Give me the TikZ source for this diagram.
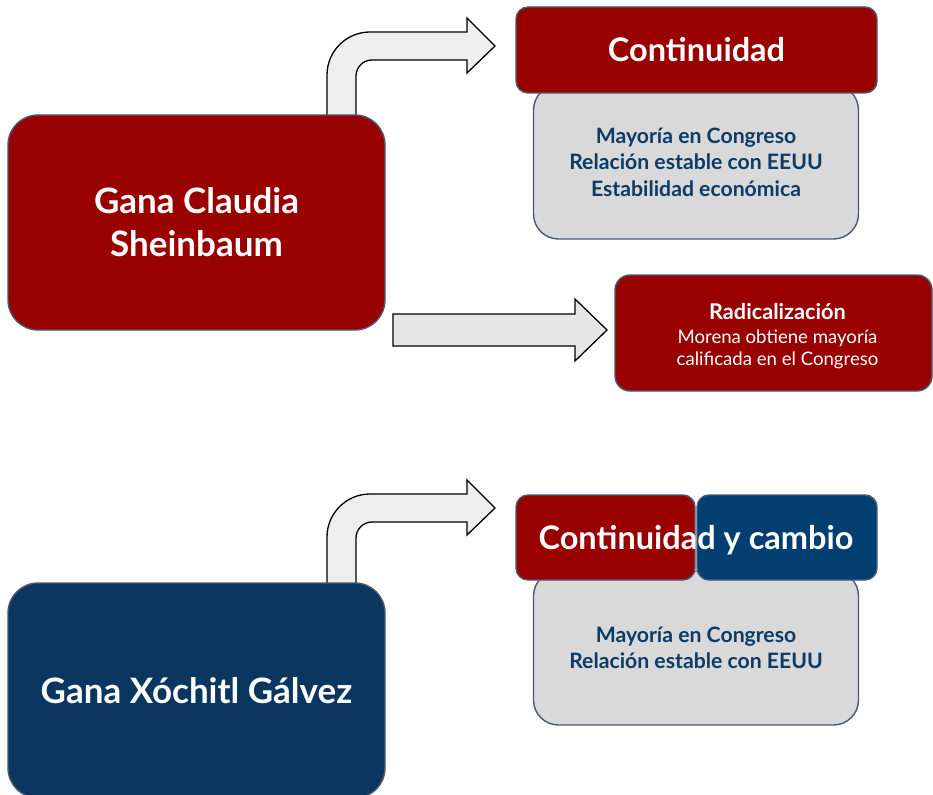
\documentclass[tikz,border=0pt]{standalone}
\usepackage{fontspec}
\setmainfont{Lato}
\definecolor{rojo}{HTML}{990000}
\definecolor{azul}{HTML}{0A3660}
\definecolor{azulb}{HTML}{023F70}
\definecolor{gris}{HTML}{D9D9D9}
\definecolor{borde}{HTML}{4A5A74}
\definecolor{txtazul}{HTML}{0B3B66}
\definecolor{flecha}{HTML}{EEEEEE}
\definecolor{flechab}{HTML}{E6E6E6}
\tikzset{
  box/.style={draw=borde, line width=1.4pt, inner sep=0pt, align=center},
  bigbox/.style={box, rounded corners=30pt, minimum width=377pt, minimum height=215pt, text=white,
    font=\fontsize{35}{43}\selectfont\bfseries},
  headbox/.style={box, rounded corners=12pt, minimum height=86pt, text=white},
  graybox/.style={box, fill=gris, rounded corners=25pt, minimum width=325pt, minimum height=154pt, text=txtazul,
    font=\fontsize{21.2}{26.5}\selectfont\bfseries},
  headtext/.style={text=white, font=\fontsize{32.5}{36}\selectfont\bfseries},
  blockarrow/.style={draw=black, line width=1.3pt, line join=miter},
  bentarrow/.pic={
    \draw[blockarrow, fill=flecha] (327,140) -- (327,75) .. controls (327,51.25) and (346.25,32) .. (370,32)
      -- (467,32) -- (467,18) -- (495,46) -- (467,73) -- (467,60) -- (372,60)
      .. controls (363.2,60) and (356,67.2) .. (356,76) -- (356,140) -- cycle;
  }
}
\begin{document}
\begin{tikzpicture}[x=1pt,y=-1pt]
\useasboundingbox (0,0) rectangle (933,794);
\clip (0,0) rectangle (933,794);

% bent arrows (behind the main boxes)
\pic at (0,0) {bentarrow};
\pic at (0,462) {bentarrow};

% main boxes
\node[bigbox, fill=rojo] (claudia) at (196.5,222.5) {Gana Claudia\\Sheinbaum};
\node[bigbox, fill=azul] (xochitl) at (196.5,690.5) {Gana Xóchitl Gálvez};

% top scenario
\node[graybox] (gris1) at (696,162) {Mayoría en Congreso\\Relación estable con EEUU\\Estabilidad económica};
\node[headbox, headtext, fill=rojo, minimum width=361pt] (cont1) at (696.5,50) {Continuidad};

% straight arrow
\draw[blockarrow, fill=flechab] (393,314) -- (575,314) -- (575,299) -- (607,330) -- (575,361) -- (575,346) -- (393,346) -- cycle;

\node[box, fill=rojo, rounded corners=15pt, minimum width=317pt, minimum height=116pt, text=white,
  font=\fontsize{18.6}{22}\selectfont] (radical) at (773.5,333)
  {\rule{0pt}{22pt}\fontsize{21.7}{25}\selectfont\bfseries\hspace*{8pt}Radicalización\\[2pt]
   \fontsize{18.6}{22}\selectfont\mdseries\hspace*{8pt}Morena obtiene mayoría\\\hspace*{8pt}calificada en el Congreso};

% bottom scenario
\node[graybox] (gris2) at (696,648) {Mayoría en Congreso\\Relación estable con EEUU};
\node[headbox, fill=rojo, minimum width=179pt, minimum height=85pt] (contA) at (605.5,537.5) {};
\node[headbox, fill=azulb, minimum width=180pt, minimum height=85pt] (contB) at (787,537.5) {};
\node[headtext, inner sep=0pt] (cont2) at (696,540) {Continuidad y cambio};
\end{tikzpicture}
\end{document}
